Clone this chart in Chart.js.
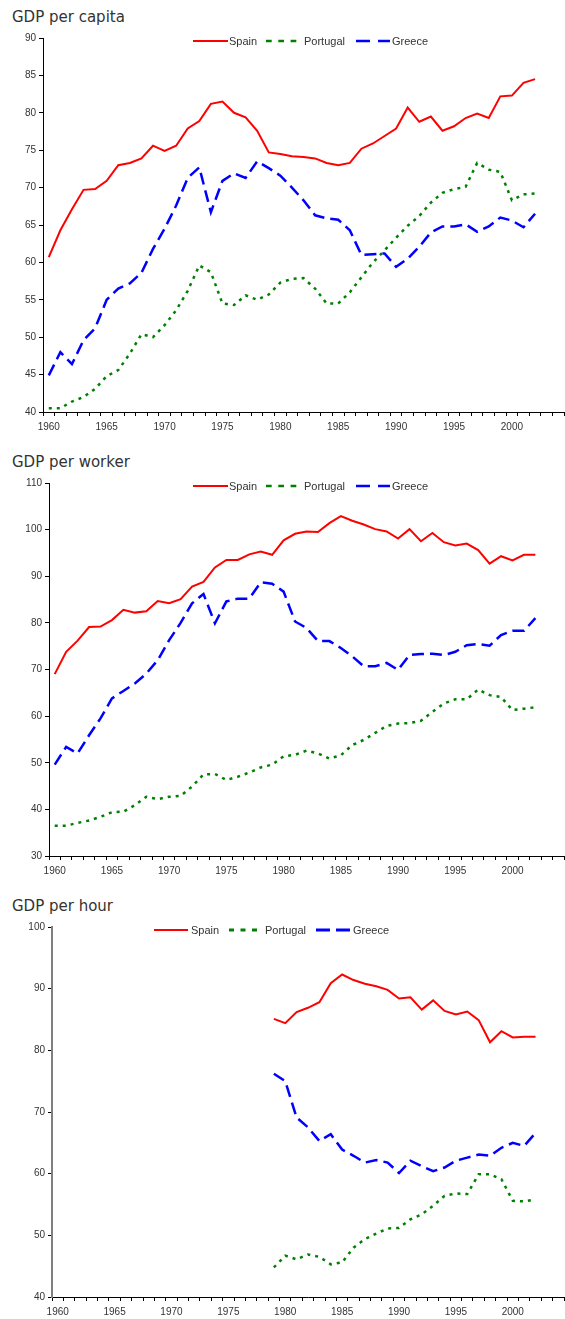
<!DOCTYPE html>
<html>
<head>
<meta charset="utf-8">
<script src="https://cdn.jsdelivr.net/npm/chart.js@4.4.1/dist/chart.umd.min.js"></script>
<style>
  body { margin: 0; width: 565px; height: 1319px; position: relative; background: #fff; overflow: hidden;
         font-family: "Liberation Sans", Arial, sans-serif; }
  canvas { position: absolute; left: 0; }
  .title { position: absolute; left: 12px; font-family: "DejaVu Sans", sans-serif; font-size: 15px; color: #333; line-height: 16px; }
  .legend { position: absolute; left: 0; width: 565px; height: 14px; font-size: 11px; color: #333; }
  .legend span { position: absolute; top: 0; line-height: 14px; white-space: nowrap; }
  .legend svg { position: absolute; top: 0; }
</style>
</head>
<body>
<div class="title" style="top:9px">GDP per capita</div>
<div class="title" style="top:454px">GDP per worker</div>
<div class="title" style="top:898px">GDP per hour</div>
<canvas id="c1" width="565" height="440" style="top:0"></canvas>
<canvas id="c2" width="565" height="440" style="top:440px"></canvas>
<canvas id="c3" width="565" height="439" style="top:880px"></canvas>
<div class="legend" id="l1" style="top:34px"></div>
<div class="legend" id="l2" style="top:479px"></div>
<div class="legend" id="l3" style="top:923px"></div>
<script>
const years = [1960, 1961, 1962, 1963, 1964, 1965, 1966, 1967, 1968, 1969,
  1970, 1971, 1972, 1973, 1974, 1975, 1976, 1977, 1978, 1979,
  1980, 1981, 1982, 1983, 1984, 1985, 1986, 1987, 1988, 1989,
  1990, 1991, 1992, 1993, 1994, 1995, 1996, 1997, 1998, 1999,
  2000, 2001, 2002, 2003, 2004];

const seriesNames = ["Spain", "Portugal", "Greece"];

// GDP per capita, 1960-2002
const capitaSpain = [60.7, 64.3, 67.1, 69.7, 69.8, 70.9, 73.0, 73.3, 73.9, 75.6,
  74.9, 75.6, 77.9, 78.9, 81.2, 81.5, 80.0, 79.4, 77.6, 74.7,
  74.5, 74.2, 74.1, 73.9, 73.3, 73.0, 73.3, 75.2, 75.9, 76.9,
  77.9, 80.7, 78.8, 79.5, 77.6, 78.2, 79.3, 79.9, 79.3, 82.2,
  82.3, 84.0, 84.5];
const capitaPortugal = [40.5, 40.5, 41.4, 42.0, 43.1, 44.8, 45.6, 47.8, 50.4, 50.0,
  51.6, 53.6, 56.2, 59.6, 58.7, 54.5, 54.3, 55.6, 55.0, 55.7,
  57.3, 57.8, 57.9, 56.5, 54.5, 54.5, 56.0, 58.0, 60.0, 61.6,
  63.3, 64.9, 66.2, 68.0, 69.3, 69.8, 70.1, 73.3, 72.4, 72.1,
  68.3, 69.1, 69.2];
const capitaGreece = [44.9, 48.0, 46.4, 49.6, 51.2, 55.0, 56.5, 57.2, 58.6, 61.8,
  64.5, 67.6, 71.3, 72.7, 66.7, 70.9, 71.9, 71.3, 73.5, 72.6,
  71.6, 70.0, 68.3, 66.3, 65.9, 65.7, 64.3, 61.0, 61.1, 61.2,
  59.4, 60.5, 62.1, 64.0, 64.8, 64.8, 65.1, 64.1, 64.8, 66.0,
  65.6, 64.7, 66.5];

// GDP per worker, 1960-2002
const workerSpain = [69.0, 73.8, 76.2, 79.1, 79.2, 80.6, 82.8, 82.2, 82.5, 84.7,
  84.2, 85.1, 87.8, 88.8, 91.9, 93.5, 93.5, 94.7, 95.3, 94.6,
  97.7, 99.1, 99.6, 99.5, 101.4, 102.9, 101.9, 101.1, 100.1, 99.6,
  98.1, 100.1, 97.5, 99.3, 97.3, 96.6, 97.0, 95.6, 92.7, 94.3,
  93.4, 94.6, 94.6];
const workerPortugal = [36.5, 36.5, 37.1, 37.6, 38.4, 39.4, 39.5, 40.9, 42.7, 42.2,
  42.7, 42.9, 44.9, 47.5, 47.6, 46.3, 47.0, 47.9, 49.0, 49.6,
  51.4, 51.7, 52.6, 52.0, 50.9, 51.6, 53.8, 54.9, 56.4, 57.9,
  58.4, 58.5, 59.0, 60.9, 62.7, 63.6, 63.6, 65.7, 64.5, 64.1,
  61.3, 61.6, 61.9];
const workerGreece = [49.6, 53.4, 52.0, 55.9, 59.5, 63.8, 65.4, 67.0, 69.1, 72.0,
  76.3, 80.0, 84.2, 86.2, 79.9, 84.6, 85.2, 85.2, 88.7, 88.4,
  86.7, 80.3, 78.9, 76.1, 76.1, 74.6, 72.8, 70.7, 70.7, 71.4,
  69.9, 73.1, 73.3, 73.4, 73.1, 73.8, 75.2, 75.5, 75.1, 77.4,
  78.3, 78.3, 81.0];

// GDP per hour, 1979-2002
const hourFirstYear = 1979;
const hourSpain = [85.1, 84.4, 86.2, 86.9, 87.8, 90.9, 92.3, 91.4, 90.8, 90.4,
  89.8, 88.4, 88.6, 86.6, 88.1, 86.4, 85.8, 86.3, 84.9, 81.3,
  83.1, 82.1, 82.2, 82.2];
const hourPortugal = [44.8, 46.7, 46.1, 46.9, 46.5, 45.3, 45.6, 48.0, 49.4, 50.3,
  51.1, 51.2, 52.6, 53.4, 54.8, 56.4, 56.8, 56.7, 59.9, 59.9,
  59.1, 55.6, 55.5, 55.8];
const hourGreece = [76.2, 75.0, 69.1, 67.5, 65.3, 66.4, 63.9, 62.9, 61.8, 62.2,
  61.8, 60.1, 62.1, 61.2, 60.4, 61.0, 62.1, 62.6, 63.1, 62.9,
  64.2, 65.0, 64.5, 66.6];

const colors = ["#ff0000", "#008000", "#0000ff"];
const widths = [2, 2.5, 2.5];
const dashes = [[], [3, 5], [12, 6]];
const tickFont = { family: "Liberation Sans, Arial, sans-serif", size: 10 };

function alignFrom(firstYear, values) {
  const start = years.indexOf(firstYear);
  return years.map((y, i) => (i >= start && i - start < values.length) ? values[i - start] : null);
}

function makeChart(id, seriesData, opt) {
  const ctx = document.getElementById(id).getContext("2d");
  return new Chart(ctx, {
    type: "line",
    data: {
      labels: years,
      datasets: seriesData.map((d, i) => ({
        label: seriesNames[i],
        data: d,
        borderColor: colors[i],
        borderWidth: widths[i],
        borderDash: dashes[i],
        pointRadius: 0,
        tension: 0,
        fill: false,
        spanGaps: false
      }))
    },
    options: {
      responsive: false,
      animation: false,
      devicePixelRatio: 1,
      layout: { padding: { top: opt.top, left: 0, right: 1, bottom: 0 } },
      plugins: { legend: { display: false }, tooltip: { enabled: false } },
      scales: {
        x: {
          type: "category",
          offset: true,
          grid: { display: true, drawOnChartArea: false, drawTicks: true, tickLength: 4, offset: true, color: "#000" },
          border: { display: true, color: "#000", width: 1 },
          ticks: {
            autoSkip: false, maxRotation: 0, padding: 5, font: tickFont, color: "#333",
            callback: function (v) {
              const l = this.getLabelForValue(v);
              return l % 5 === 0 && l <= 2000 ? String(l) : "";
            }
          },
          afterFit: s => { s.height = opt.xh; }
        },
        y: {
          min: opt.min, max: opt.max,
          grid: { display: true, drawOnChartArea: false, drawTicks: true, tickLength: 4, color: "#000" },
          border: { display: true, color: opt.yColor || "#000", width: opt.yWidth || 1 },
          ticks: { stepSize: opt.step, padding: 3, font: tickFont, color: "#333" },
          afterFit: s => { s.width = opt.yw; }
        }
      }
    }
  });
}

function makeLegend(id, pos) {
  const box = document.getElementById(id);
  seriesNames.forEach((name, i) => {
    const p = pos[i];
    const svg = document.createElementNS("http://www.w3.org/2000/svg", "svg");
    svg.setAttribute("width", p.w);
    svg.setAttribute("height", 14);
    svg.style.left = p.x + "px";
    const ln = document.createElementNS("http://www.w3.org/2000/svg", "line");
    ln.setAttribute("x1", 0); ln.setAttribute("x2", p.w);
    ln.setAttribute("y1", 7); ln.setAttribute("y2", 7);
    ln.setAttribute("stroke", colors[i]);
    ln.setAttribute("stroke-width", p.lw || widths[i]);
    if (p.dash) ln.setAttribute("stroke-dasharray", p.dash);
    svg.appendChild(ln);
    box.appendChild(svg);
    const t = document.createElement("span");
    t.textContent = name;
    t.style.left = p.tx + "px";
    box.appendChild(t);
  });
}

makeChart("c1", [capitaSpain, capitaPortugal, capitaGreece],
  { top: 38, xh: 28, yw: 43, min: 40, max: 90, step: 5 });
makeChart("c2", [workerSpain, workerPortugal, workerGreece],
  { top: 43, xh: 24, yw: 49, min: 30, max: 110, step: 10 });
makeChart("c3", [alignFrom(hourFirstYear, hourSpain), alignFrom(hourFirstYear, hourPortugal), alignFrom(hourFirstYear, hourGreece)],
  { top: 47, xh: 22, yw: 52, min: 40, max: 100, step: 10, yColor: "#808080", yWidth: 2 });

const legendTop = [
  { x: 193, w: 35, tx: 229 },
  { x: 266, w: 31, tx: 304, dash: "5.7 6.6" },
  { x: 356, w: 34, tx: 392, dash: "14 8" }
];
const legendBottom = [
  { x: 154, w: 34, tx: 191 },
  { x: 229, w: 28, tx: 265, dash: "5 6.5", lw: 3 },
  { x: 316, w: 34, tx: 353, dash: "14 6", lw: 3 }
];
makeLegend("l1", legendTop);
makeLegend("l2", legendTop);
makeLegend("l3", legendBottom);
</script>
</body>
</html>
